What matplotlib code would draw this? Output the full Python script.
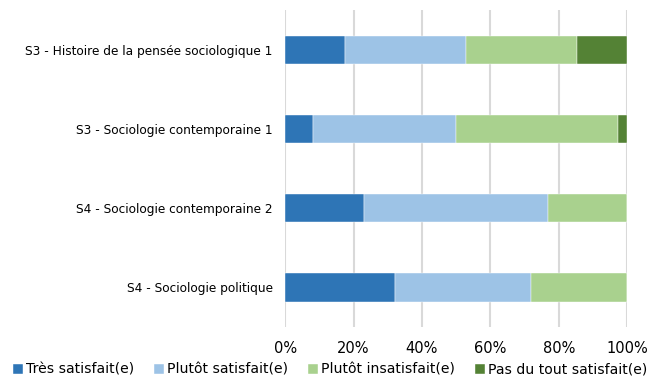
import matplotlib
matplotlib.use("Agg")
import matplotlib.pyplot as plt
from matplotlib.ticker import PercentFormatter

# categories from top to bottom
courses = [
    "S3 - Histoire de la pensée sociologique 1",
    "S3 - Sociologie contemporaine 1",
    "S4 - Sociologie contemporaine 2",
    "S4 - Sociologie politique",
]
levels = ["Très satisfait(e)", "Plutôt satisfait(e)",
          "Plutôt insatisfait(e)", "Pas du tout satisfait(e)"]
colors = ["#2E75B6", "#9DC3E6", "#A9D18E", "#548235"]

tres_satisfait = [17.6, 8.1, 23.1, 32.0]
plutot_satisfait = [35.3, 41.9, 53.8, 40.0]
plutot_insatisfait = [32.4, 47.3, 23.1, 28.0]
pas_du_tout = [14.7, 2.7, 0.0, 0.0]

series = [tres_satisfait, plutot_satisfait, plutot_insatisfait, pas_du_tout]

plt.rcParams['font.family'] = ['DejaVu Sans']

fig = plt.figure(figsize=(6.54, 3.76), dpi=100)
ax = fig.add_axes([0.436, 0.130, 0.523, 0.843])

ypos = list(range(len(courses)))[::-1]
left = [0.0] * len(courses)
for name, vals, col in zip(levels, series, colors):
    ax.barh(ypos, vals, left=left, height=0.355, color=col, label=name,
            edgecolor="white", linewidth=0.3, zorder=3)
    left = [a + b for a, b in zip(left, vals)]

ax.set_xlim(0, 100)
ax.set_ylim(-0.5, len(courses) - 0.5)
ax.set_xticks([0, 20, 40, 60, 80, 100])
ax.xaxis.set_major_formatter(PercentFormatter(decimals=0))
ax.set_yticks(ypos)
ax.set_yticklabels(courses, fontsize=9.7, fontstretch="condensed")
ax.grid(axis="x", color="#d9d9d9", linewidth=1.5, zorder=0)
for s in ax.spines.values():
    s.set_visible(False)
ax.tick_params(axis="both", length=0, colors="black")
ax.tick_params(axis="x", labelsize=10.5, pad=10)
ax.tick_params(axis="y", pad=9)

fig.legend(loc="lower center", bbox_to_anchor=(0.505, -0.035), ncol=4,
           frameon=False, handlelength=0.7, handleheight=0.7,
           handletextpad=0.25, columnspacing=1.4, fontsize=10.1)

fig.savefig("out.png", dpi=100)
